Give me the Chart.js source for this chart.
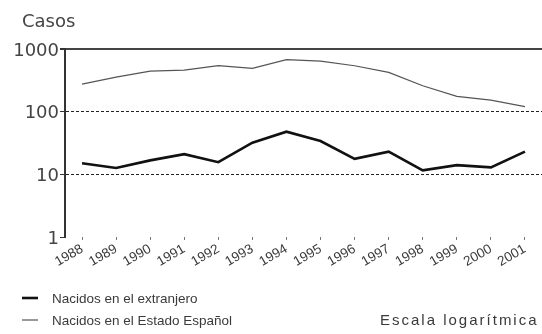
<!DOCTYPE html>
<html>
<head>
<meta charset="utf-8">
<script src="https://cdn.jsdelivr.net/npm/chart.js@4/dist/chart.umd.min.js"></script>
<style>
  html, body { margin: 0; padding: 0; background: #fff; }
  #wrap { position: relative; width: 542px; height: 334px; }
</style>
</head>
<body>
<div id="wrap"><canvas id="c"></canvas></div>
<script>
// Casos por año de diagnóstico, según lugar de nacimiento
const years = ['1988', '1989', '1990', '1991', '1992', '1993', '1994',
               '1995', '1996', '1997', '1998', '1999', '2000', '2001'];
const extranjero = [15, 12.6, 16.7, 21, 15.6, 32, 48, 34, 17.7, 23, 11.6, 14, 12.9, 23];
const estadoEspanol = [275, 356, 445, 461, 541, 490, 675, 640, 540, 424, 259, 175, 153, 120];
const yTicks = [1, 10, 100, 1000];
const legendLabels = ['Nacidos en el extranjero', 'Nacidos en el Estado Español'];
const yAxisTitle = 'Casos';
const scaleNote = 'Escala logarítmica';

// Texts around the plot: axis caption, legend rows and the scale note
const decorations = {
  id: 'decorations',
  afterDraw(chart) {
    const ctx = chart.ctx;
    ctx.save();
    ctx.fillStyle = '#444';
    ctx.textBaseline = 'alphabetic';
    ctx.font = '18px "DejaVu Sans"';
    ctx.fillText(yAxisTitle, 22, 27);

    ctx.font = '13.5px "Liberation Sans"';
    chart.data.datasets.forEach((ds, i) => {
      const y = 298 + i * 22;
      ctx.strokeStyle = ds.borderColor;
      ctx.lineWidth = ds.borderWidth;
      ctx.beginPath();
      ctx.moveTo(22, y);
      ctx.lineTo(38, y);
      ctx.stroke();
      ctx.fillStyle = '#3a3a3a';
      ctx.fillText(ds.label, 52, y + 5);
    });

    ctx.letterSpacing = '2px';
    ctx.font = '15px "Liberation Sans"';
    ctx.fillText(scaleNote, 380, 325);
    ctx.restore();
  }
};

new Chart(document.getElementById('c'), {
  type: 'line',
  data: {
    labels: years,
    datasets: [
      {
        label: legendLabels[0],
        data: extranjero,
        borderColor: '#111',
        borderWidth: 2.6,
        pointRadius: 0,
        tension: 0
      },
      {
        label: legendLabels[1],
        data: estadoEspanol,
        borderColor: '#555',
        borderWidth: 1.2,
        pointRadius: 0,
        tension: 0
      }
    ]
  },
  options: {
    responsive: true,
    maintainAspectRatio: false,
    animation: false,
    layout: { padding: { top: 49, right: 0, left: 0, bottom: 0 } },
    plugins: {
      legend: { display: false },
      tooltip: { enabled: false }
    },
    scales: {
      x: {
        offset: true,
        border: { display: false },
        grid: {
          drawOnChartArea: false,
          tickLength: 3,
          tickColor: '#777',
          tickWidth: 1
        },
        ticks: {
          autoSkip: false,
          minRotation: 30,
          maxRotation: 30,
          padding: 1,
          color: '#3a3a3a',
          font: { family: 'Liberation Sans', size: 13.5 }
        },
        afterFit(scale) { scale.height = 97; }
      },
      y: {
        type: 'logarithmic',
        min: 1,
        max: 1000,
        afterBuildTicks(scale) {
          scale.ticks = yTicks.map(v => ({ value: v }));
        },
        afterFit(scale) { scale.width = 65; },
        border: {
          display: true,
          color: '#333',
          width: 2,
          dash: c => (c.tick && (c.tick.value === 10 || c.tick.value === 100)) ? [3, 2] : []
        },
        grid: {
          color: c => {
            if (!c.tick) return '#333';
            if (c.tick.value === 1) return 'rgba(0,0,0,0)';
            return c.tick.value === 1000 ? '#444' : '#222';
          },
          lineWidth: c => (c.tick && c.tick.value === 1000) ? 2 : 1,
          tickLength: 5,
          tickColor: '#333'
        },
        ticks: {
          padding: 1,
          labelOffset: 2,
          color: '#444',
          font: { family: 'DejaVu Sans', size: 18 },
          callback: v => String(v)
        }
      }
    }
  },
  plugins: [decorations]
});
</script>
</body>
</html>
